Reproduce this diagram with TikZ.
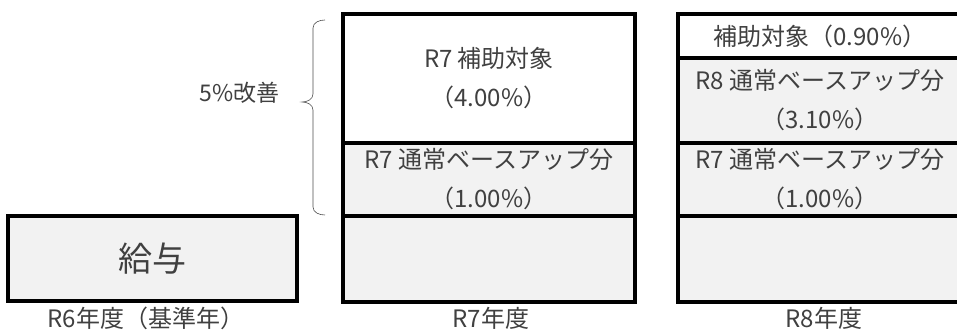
\documentclass[tikz,border=0pt]{standalone}
\usepackage{fontspec}
\setmainfont{Noto Sans CJK JP}
\definecolor{boxgray}{HTML}{F2F2F2}
\definecolor{txtgray}{HTML}{404040}
\begin{document}
\begin{tikzpicture}[x=1pt,y=-1pt,
  seg/.style={draw=black,line width=4pt,inner sep=0pt,align=center,text=txtgray,
    font=\fontsize{24}{39}\selectfont},
  segg/.style={seg,fill=boxgray},
  yearlbl/.style={text=txtgray,font=\fontsize{24}{28}\selectfont,inner sep=0pt}]
\useasboundingbox (0,0) rectangle (957,331);
\node [segg,minimum width=289pt,minimum height=85pt,font=\fontsize{34}{40}\selectfont] (kyuyo) at (152.5,258.5) {給与};
\node [seg,minimum width=292pt,minimum height=129pt] (rsevhojo) at (489,78.5) {R7 補助対象\\（4.00\%）};
\node [segg,minimum width=292pt,minimum height=73pt] (rsevbase) at (489,179.5) {R7 通常ベースアップ分\\（1.00\%）};
\node [segg,minimum width=292pt,minimum height=86pt] (rsevkihon) at (489,259) {};
\node [seg,minimum width=284pt,minimum height=44pt] (reighojo) at (820,36) {補助対象（0.90\%）};
\node [segg,minimum width=284pt,minimum height=85pt] (reighbase) at (820,100.5) {R8 通常ベースアップ分\\（3.10\%）};
\node [segg,minimum width=284pt,minimum height=73pt] (reighprev) at (820,179.5) {R7 通常ベースアップ分\\（1.00\%）};
\node [segg,minimum width=284pt,minimum height=86pt] (reighkihon) at (820,259) {};
\node [yearlbl] (lblsix) at (146,318.5) {R6年度（基準年）};
\node [yearlbl] (lblsev) at (491,318.5) {R7年度};
\node [yearlbl] (lbleigh) at (824,318.5) {R8年度};
\coordinate (bt) at (325,20);
\coordinate (bb) at (325,215);
\draw [line width=0.6pt,black!70] (bt) to[out=180,in=90] ++(-12,8) -- ++(0,66) to[out=-90,in=0] ++(-11,8)
  to[out=0,in=90] ++(11,8) -- ++(0,97) to[out=-90,in=180] (bb);
\node [text=txtgray,font=\fontsize{23}{26}\selectfont,anchor=east] (kaizen) at (283,93) {5\%改善};
\end{tikzpicture}
\end{document}
